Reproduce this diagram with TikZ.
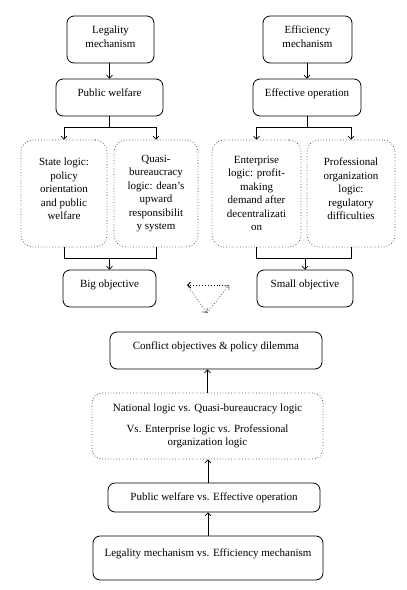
\documentclass[tikz,border=0pt]{standalone}
\usepackage{fontspec}
\setmainfont{Liberation Serif}
\usetikzlibrary{arrows.meta}
\begin{document}
\begin{tikzpicture}[x=1pt,y=-1pt,
  font=\fontsize{11}{13.5}\selectfont,
  box/.style={draw=black, line width=0.8pt, rounded corners=7pt, align=center, inner sep=1pt},
  dbox/.style={draw=black!65, line width=0.8pt, dotted, rounded corners=12pt, align=center, inner sep=1pt},
  arr/.style={-{Straight Barb[length=3pt,width=6pt]}, line width=0.7pt},
  ln/.style={line width=0.7pt},
  tri/.style={-{Straight Barb[length=3pt,width=6pt]}, line width=0.9pt, dotted}]
\useasboundingbox (0,0) rectangle (407,590);
\fill[white] (0,0) rectangle (407,590);
% top row
\node[box, minimum width=87pt, minimum height=47pt, text depth=6pt] (LM) at (110.5,39.5) {Legality\\mechanism};
\node[box, minimum width=89pt, minimum height=47pt, text depth=6pt] (EM) at (307.5,39.5) {Efficiency\\mechanism};
\node[box, minimum width=107pt, minimum height=37pt, text depth=9pt] (PW) at (109.5,97.5) {Public welfare};
\node[box, minimum width=108pt, minimum height=37pt, text depth=9pt] (EO) at (307,97.5) {Effective operation};
% logic boxes
\node[dbox, minimum width=86pt, minimum height=107pt] (SL) at (64,193.5) {State logic:\\policy\\orientation\\and public\\welfare\\[-4pt]\mbox{}};
\node[dbox, minimum width=84pt, minimum height=107pt] (QB) at (156,193.5) {Quasi-\\bureaucracy\\logic: dean's\\upward\\responsibilit\\y system};
\node[dbox, minimum width=89pt, minimum height=107pt] (EL) at (256.5,193.5) {Enterprise\\logic: profit-\\making\\demand after\\decentralizati\\on};
\node[dbox, minimum width=88pt, minimum height=107pt] (PO) at (351,193.5) {Professional\\organization\\logic:\\regulatory\\difficulties\\[-4pt]\mbox{}};
% objectives
\node[box, minimum width=93pt, minimum height=37pt, text depth=9pt] (BO) at (109.5,288.5) {Big objective};
\node[box, minimum width=96pt, minimum height=37pt, text depth=9pt] (SO) at (305,288.5) {Small objective};
% bottom chain
\node[box, minimum width=212pt, minimum height=37pt, text depth=9pt] (CO) at (216,350.5) {Conflict objectives \& policy dilemma};
\node[dbox, minimum width=231pt, minimum height=66pt, rounded corners=10pt] (NL) at (207.5,426) {National logic vs. Quasi-bureaucracy logic\\[7pt]Vs. Enterprise logic vs. Professional\\organization logic};
\node[box, minimum width=212pt, minimum height=29pt] (PV) at (214,497.5) {Public welfare vs. Effective operation};
\node[box, minimum width=230pt, minimum height=44pt, text depth=11pt] (LV) at (208,558) {Legality mechanism vs. Efficiency mechanism};
% top connectors
\draw[arr] (LM.south -| PW.north) -- (PW.north);
\draw[arr] (EM.south -| EO.north) -- (EO.north);
\draw[ln] (PW.south) -- ++(0,11) coordinate (bl);
\draw[ln] (bl -| SL.north) -- (bl -| QB.north);
\draw[arr] (bl -| SL.north) -- (SL.north);
\draw[arr] (bl -| QB.north) -- (QB.north);
\draw[ln] (EO.south) -- ++(0,11) coordinate (br);
\draw[ln] (br -| EL.north) -- (br -| PO.north);
\draw[arr] (br -| EL.north) -- (EL.north);
\draw[arr] (br -| PO.north) -- (PO.north);
% merges
\draw[ln] (SL.south) -- ++(0,11) coordinate (ml) -- (ml -| QB.south) -- (QB.south);
\draw[arr] (ml -| BO.north) -- (BO.north);
\draw[ln] (EL.south) -- ++(0,11) coordinate (mr) -- (mr -| PO.south) -- (PO.south);
\draw[arr] (mr -| SO.north) -- (SO.north);
% triangle
\coordinate (tL) at (187,285);
\coordinate (tR) at (229,285);
\coordinate (tB) at (207,313);
\draw[tri, black] (tR) -- (tL);
\draw[tri, black!55] (tL) -- (tB);
\draw[tri, black!55] (tB) -- (tR);
% bottom chain arrows
\draw[arr] (LV.north) -- (LV.north |- PV.south);
\draw[arr] (LV.north |- PV.north) -- (LV.north |- NL.south);
\draw[arr] (NL.north) -- (NL.north |- CO.south);
\end{tikzpicture}
\end{document}
